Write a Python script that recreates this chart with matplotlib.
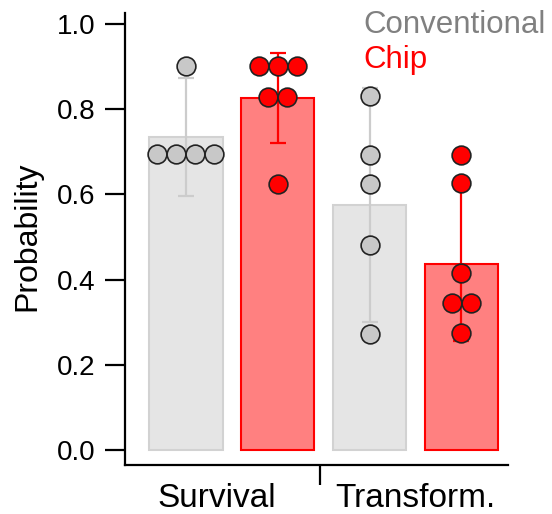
import matplotlib
matplotlib.use("Agg")
import matplotlib.pyplot as plt
import matplotlib.transforms as mtransforms
import numpy as np

plt.rcParams['font.family'] = ['Liberation Sans', 'DejaVu Sans']

# data
groups = ["Survival", "Transform."]
methods = ["Conventional", "Chip"]
bar_means = [0.735, 0.826, 0.575, 0.436]          # Surv-Conv, Surv-Chip, Trans-Conv, Trans-Chip
bar_sd = [0.138, 0.105, 0.275, 0.18]
surv_conv = [0.901, 0.695, 0.695, 0.695, 0.695]
surv_chip = [0.901, 0.901, 0.901, 0.829, 0.829, 0.624]
trans_conv = [0.831, 0.692, 0.624, 0.481, 0.272]
trans_chip = [0.692, 0.627, 0.415, 0.345, 0.345, 0.275]
yticks = [0.0, 0.2, 0.4, 0.6, 0.8, 1.0]

points = [surv_conv, surv_chip, trans_conv, trans_chip]
bar_fill = ["#e5e5e5", "#ff8080"] * 2
bar_edge = ["#d2d2d2", "#ff0000"] * 2
err_col = ["#cccccc", "#ff0000"] * 2
dot_fill = ["#c8c8c8", "#ff0000"] * 2

fig = plt.figure(figsize=(5.52, 5.14), dpi=100)
ax = fig.add_axes([125 / 552, 49 / 514, 383 / 552, 452 / 514])

xpos = np.arange(len(bar_means))
ax.bar(xpos, bar_means, width=0.8, color=bar_fill, edgecolor=bar_edge,
       linewidth=1.5, zorder=1)
for i in range(len(bar_means)):
    ax.errorbar(xpos[i], bar_means[i], yerr=bar_sd[i], color=err_col[i],
                elinewidth=1.6, capsize=5.8, capthick=1.6, zorder=2)

# swarm: spread equal values side by side
dot_w = 0.207
for i, vals in enumerate(points):
    vals = np.array(vals)
    for v in np.unique(vals):
        n = np.sum(vals == v)
        offs = (np.arange(n) - (n - 1) / 2) * dot_w
        ax.plot(xpos[i] + offs, [v] * n, 'o', ms=13.5, mfc=dot_fill[i],
                mec="#222222", mew=1.2, zorder=3, clip_on=False)

ax.set_xlim(-0.664, 3.508)
ax.set_ylim(-0.035, 1.026)
ax.set_yticks(yticks)
ax.set_yticklabels(["%.1f" % t for t in yticks])
ax.set_xticks([1.46])
ax.set_xticklabels([""])
for s in ["top", "right"]:
    ax.spines[s].set_visible(False)
for s in ["left", "bottom"]:
    ax.spines[s].set_linewidth(1.6)
ax.tick_params(axis='both', length=14.4, width=1.6, labelsize=20, pad=7)

trans = mtransforms.blended_transform_factory(ax.transData, ax.transAxes)
for x, g in zip([0.34, 2.5], groups):
    ax.text(x, -0.093, g, transform=trans, ha='center', va='baseline', fontsize=24)

fig.text(27.5 / 552, 1 - 236 / 514, "Probability", rotation=90, ha='center',
         va='center', fontsize=23)

fig.text(363 / 552, 1 - 33 / 514, methods[0], color="#808080", fontsize=22.5,
         va='baseline', ha='left')
fig.text(363 / 552, 1 - 68 / 514, methods[1], color="#ff0000", fontsize=22.5,
         va='baseline', ha='left')

fig.savefig("out.png", dpi=100)
